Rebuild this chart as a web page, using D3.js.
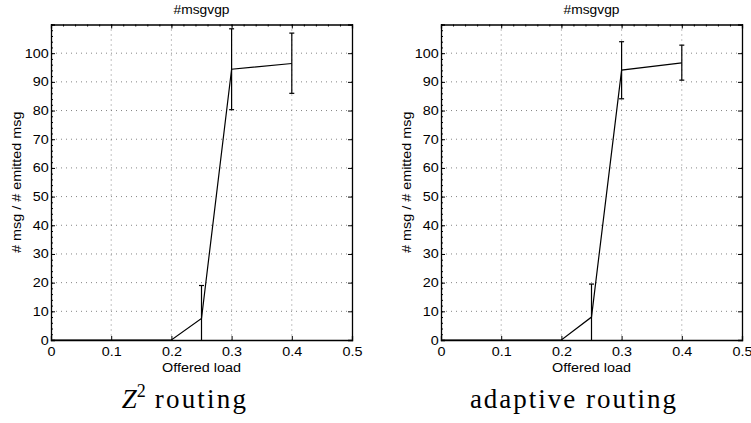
<!DOCTYPE html>
<html>
<head>
<meta charset="utf-8">
<script src="https://cdn.jsdelivr.net/npm/d3@7"></script>
<style>
  body { margin: 0; background: #fff; }
  svg { display: block; }
  .sans { font-family: "Liberation Sans", Arial, sans-serif; }
</style>
</head>
<body>
<svg id="chart" width="751" height="423"></svg>
<script>
// offered load values
const loads = [0, 0.05, 0.1, 0.15, 0.2, 0.25, 0.3, 0.4];

// Z2 routing
const z2Mean = [0, 0, 0, 0, 0, 7.5, 94.4, 96.4];
const z2Low = [0, 0, 0, 0, 0, 0, 80.3, 86];
const z2High = [0, 0, 0, 0, 0, 19, 108.5, 107];

// adaptive routing
const adMean = [0, 0, 0, 0, 0, 8, 94.1, 96.6];
const adLow = [0, 0, 0, 0, 0, 0, 84.1, 90.6];
const adHigh = [0, 0, 0, 0, 0, 19.5, 104, 102.8];

const xTicks = [0, 0.1, 0.2, 0.3, 0.4, 0.5];
const yTicks = [0, 10, 20, 30, 40, 50, 60, 70, 80, 90, 100];

const panels = [
  { left: 51, mean: z2Mean, low: z2Low, high: z2High, caption: "z2" },
  { left: 441, mean: adMean, low: adLow, high: adHigh, caption: "adaptive routing" },
];

const svg = d3.select("#chart");
const plotW = 301, plotTop = 24.5, plotBottom = 340;
const stretch = "scale(1.15,1)"; // the source text is a bit wide

panels.forEach(function (p) {
  const x = d3.scaleLinear().domain([0, 0.5]).range([p.left, p.left + plotW]);
  const y = d3.scaleLinear().domain([0, 110]).range([plotBottom, plotTop]);
  const g = svg.append("g");

  // dotted grid
  g.append("g")
    .selectAll("line")
    .data(xTicks.slice(1, -1))
    .join("line")
    .attr("x1", (d) => x(d)).attr("x2", (d) => x(d))
    .attr("y1", plotTop).attr("y2", plotBottom)
    .attr("stroke", "#777").attr("stroke-width", 0.9)
    .attr("stroke-dasharray", "1,4");
  g.append("g")
    .selectAll("line")
    .data(yTicks.slice(1))
    .join("line")
    .attr("x1", p.left).attr("x2", p.left + plotW)
    .attr("y1", (d) => y(d)).attr("y2", (d) => y(d))
    .attr("stroke", "#777").attr("stroke-width", 0.9)
    .attr("stroke-dasharray", "1,4");

  // axes, ticks inside
  const xAxis = d3.axisBottom(x).tickValues(xTicks).tickSize(-4).tickPadding(7)
    .tickFormat((d) => d3.format("")(d));
  const yAxis = d3.axisLeft(y).tickValues(yTicks).tickSize(-4).tickPadding(2);

  g.append("g").attr("transform", `translate(0,${plotBottom})`).call(xAxis);
  g.append("g").attr("transform", `translate(${p.left},0)`).call(yAxis);
  g.append("g").attr("transform", `translate(${p.left + plotW},0)`)
    .call(d3.axisRight(y).tickValues(yTicks).tickSize(-4).tickFormat(""));
  g.append("g").attr("transform", `translate(0,${plotTop})`)
    .call(d3.axisTop(x).tickValues(xTicks).tickSize(-4).tickFormat(""));

  // minor ticks
  g.append("g").attr("transform", `translate(${p.left},0)`)
    .call(d3.axisLeft(y).tickValues(d3.range(0, 111, 2)).tickSize(-2).tickFormat(""))
    .call((s) => s.select(".domain").remove());
  g.append("g").attr("transform", `translate(0,${plotTop})`)
    .call(d3.axisTop(x).tickValues(d3.range(0, 0.501, 0.02)).tickSize(-2).tickFormat(""))
    .call((s) => s.select(".domain").remove());

  g.selectAll(".tick text")
    .attr("class", "sans")
    .attr("font-size", 12.5).attr("fill", "#000")
    .attr("transform", stretch);
  g.selectAll(".domain").attr("stroke", "#000").attr("stroke-width", 1.3);
  g.selectAll(".tick line").attr("stroke", "#000");

  // error bars
  const idx = d3.range(loads.length).filter((i) => p.high[i] > p.low[i]);
  const eb = g.append("g").attr("stroke", "#000").attr("stroke-width", 1.2);
  eb.selectAll("line.v").data(idx).join("line").attr("class", "v")
    .attr("x1", (i) => x(loads[i])).attr("x2", (i) => x(loads[i]))
    .attr("y1", (i) => y(p.low[i])).attr("y2", (i) => y(p.high[i]));
  eb.selectAll("line.h").data(idx).join("line").attr("class", "h")
    .attr("x1", (i) => x(loads[i]) - 2.5).attr("x2", (i) => x(loads[i]) + 2.5)
    .attr("y1", (i) => y(p.high[i])).attr("y2", (i) => y(p.high[i]));
  eb.selectAll("line.l").data(idx.filter((i) => p.low[i] > 0)).join("line").attr("class", "l")
    .attr("x1", (i) => x(loads[i]) - 2.5).attr("x2", (i) => x(loads[i]) + 2.5)
    .attr("y1", (i) => y(p.low[i])).attr("y2", (i) => y(p.low[i]));

  // mean line
  g.append("path")
    .datum(d3.range(loads.length))
    .attr("fill", "none").attr("stroke", "#000").attr("stroke-width", 1.2)
    .attr("d", d3.line().x((i) => x(loads[i])).y((i) => y(p.mean[i])));

  const cx = p.left + plotW / 2;
  g.append("text")
    .attr("class", "sans")
    .attr("transform", `translate(${cx},14) ${stretch}`)
    .attr("text-anchor", "middle")
    .attr("font-size", 12)
    .text("#msgvgp");
  g.append("text")
    .attr("class", "sans")
    .attr("transform", `translate(${cx},372) ${stretch}`)
    .attr("text-anchor", "middle")
    .attr("font-size", 12.5)
    .text("Offered load");
  g.append("text")
    .attr("class", "sans")
    .attr("transform", `translate(${p.left - 30},${(plotTop + plotBottom) / 2}) rotate(-90) ${stretch}`)
    .attr("text-anchor", "middle")
    .attr("font-size", 12.5)
    .text("# msg / # emitted msg");

  const cap = g.append("text")
    .attr("x", p.caption === "z2" ? 185 : 574).attr("y", 408)
    .attr("text-anchor", "middle")
    .attr("font-family", "Liberation Serif, serif")
    .attr("font-size", 27);
  if (p.caption === "z2") {
    cap.append("tspan").attr("font-style", "italic").text("Z");
    cap.append("tspan").attr("font-size", 18).attr("dy", -11).text("2");
    cap.append("tspan").attr("dy", 11).attr("letter-spacing", 2.2).text(" routing");
  } else {
    cap.attr("letter-spacing", 2).text(p.caption);
  }
});
</script>
</body>
</html>
